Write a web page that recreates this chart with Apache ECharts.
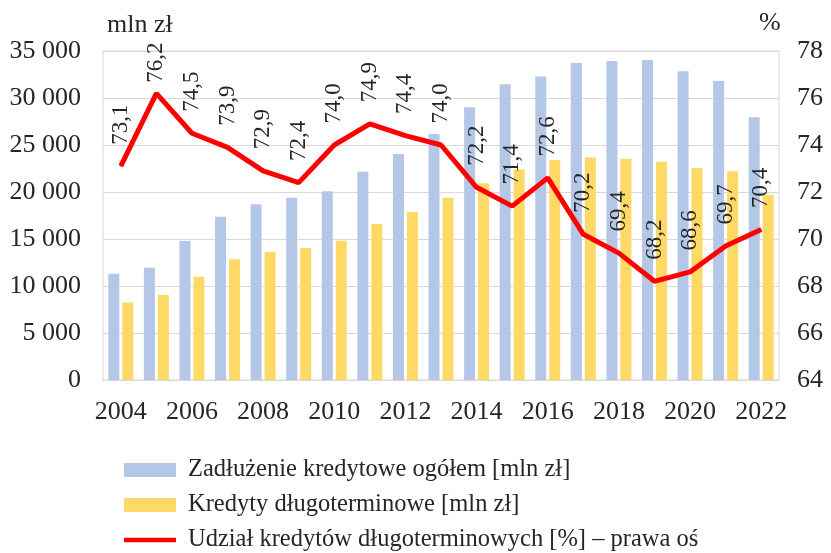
<!DOCTYPE html>
<html>
<head>
<meta charset="utf-8">
<script src="https://cdn.jsdelivr.net/npm/echarts@6/dist/echarts.min.js"></script>
<style>html,body{margin:0;padding:0;background:#fff}#c{width:831px;height:553px}</style>
</head>
<body>
<div id="c"></div>
<script>
const years = ['2004','2005','2006','2007','2008','2009','2010','2011','2012','2013','2014','2015','2016','2017','2018','2019','2020','2021','2022'];
const totalDebt = [11300,11950,14800,17380,18690,19400,20070,22160,24040,26170,29010,31450,32300,33720,33940,34040,32840,31810,27950];
const longTerm = [8250,9040,10990,12840,13620,14040,14820,16600,17870,19400,20920,22410,23400,23690,23540,23230,22550,22200,19710];
const sharePct = [73.1,76.2,74.5,73.9,72.9,72.4,74.0,74.9,74.4,74.0,72.2,71.4,72.6,70.2,69.4,68.2,68.6,69.7,70.4];
const leftTicks = {min:0, max:35000, interval:5000};
const rightTicks = {min:64, max:78, interval:2};

const serif = '"Liberation Serif", "DejaVu Serif", serif';
const txt = '#262626';
const chart = echarts.init(document.getElementById('c'));
const fmtThousands = v => String(v).replace(/\B(?=(\d{3})+(?!\d))/g, ' ');

chart.setOption({
  animation: false,
  textStyle: {fontFamily: serif},
  title: [
    {text: 'mln zł', left: 107, top: 12, padding: 0, textStyle: {fontFamily: serif, fontSize: 26, fontWeight: 'normal', color: txt}},
    {text: '%', left: 759, top: 10, padding: 0, textStyle: {fontFamily: serif, fontSize: 26, fontWeight: 'normal', color: txt}}
  ],
  grid: {left: 103, right: 52, top: 51, bottom: 173, show: true, borderColor: '#d9d9d9', borderWidth: 1},
  legend: {
    orient: 'vertical', left: 124, top: 457, height: 100, padding: 0, itemGap: 9,
    itemWidth: 52, itemHeight: 14,
    textStyle: {fontFamily: serif, fontSize: 24.5, lineHeight: 26, color: txt, padding: [0,0,0,7]},
    data: [
      {name: 'Zadłużenie kredytowe ogółem [mln zł]', icon: 'rect'},
      {name: 'Kredyty długoterminowe [mln zł]', icon: 'rect'},
      {name: 'Udział kredytów długoterminowych [%] – prawa oś', icon: 'path://M0,0 L56,0 L56,5 L0,5 Z', itemStyle: {color: '#ff0000'}}
    ]
  },
  xAxis: {
    type: 'category', data: years,
    axisLine: {lineStyle: {color: '#d9d9d9'}},
    axisTick: {show: false},
    axisLabel: {interval: 1, fontFamily: serif, fontSize: 26, color: txt, margin: 19}
  },
  yAxis: [
    {
      type: 'value', min: leftTicks.min, max: leftTicks.max, interval: leftTicks.interval,
      axisLine: {show: false}, axisTick: {show: false},
      splitLine: {lineStyle: {color: '#d9d9d9'}},
      axisLabel: {formatter: fmtThousands, fontFamily: serif, fontSize: 26, color: txt, margin: 22}
    },
    {
      type: 'value', min: rightTicks.min, max: rightTicks.max, interval: rightTicks.interval,
      axisLine: {show: false}, axisTick: {show: false}, splitLine: {show: false},
      axisLabel: {fontFamily: serif, fontSize: 26, color: txt, margin: 18}
    }
  ],
  series: [
    {
      name: 'Zadłużenie kredytowe ogółem [mln zł]', type: 'bar', data: totalDebt,
      barWidth: 11, barGap: '27%', itemStyle: {color: '#b4c7e7'}
    },
    {
      name: 'Kredyty długoterminowe [mln zł]', type: 'bar', data: longTerm,
      barWidth: 11, itemStyle: {color: '#ffd966'}
    },
    {
      name: 'Udział kredytów długoterminowych [%] – prawa oś', type: 'line', yAxisIndex: 1,
      data: sharePct.map((v, i) => i === 1 ? {value: v, label: {distance: 10}} : v),
      symbol: 'circle', symbolSize: 1, showSymbol: true,
      lineStyle: {color: '#ff0000', width: 5}, itemStyle: {color: '#ff0000'},
      z: 5,
      label: {
        show: true, position: 'top', distance: 21, rotate: 90,
        align: 'left', verticalAlign: 'middle',
        fontFamily: serif, fontSize: 23, color: txt,
        formatter: p => p.value.toFixed(1).replace('.', ',')
      }
    }
  ]
});
</script>
</body>
</html>
